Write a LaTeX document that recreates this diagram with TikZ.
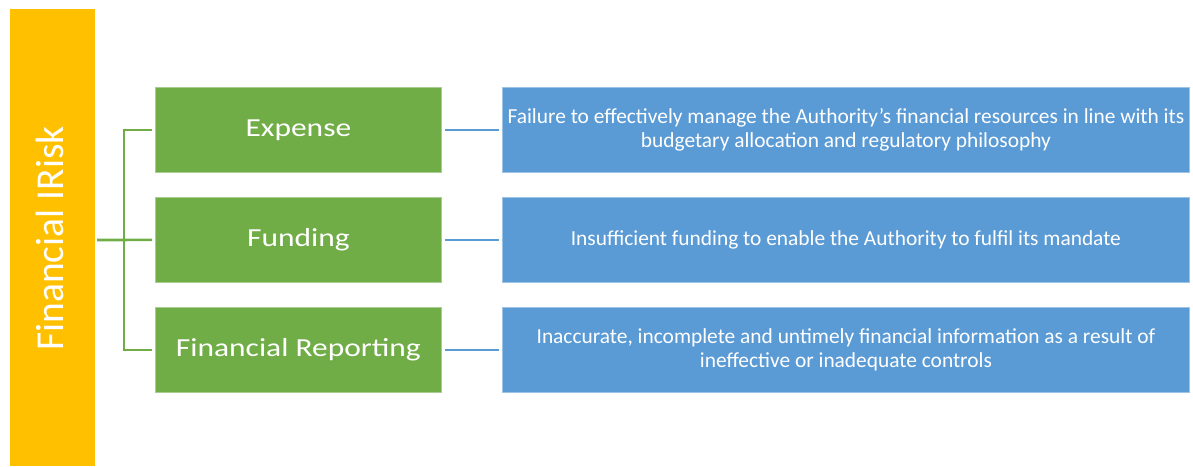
\documentclass[tikz,border=0pt]{standalone}
\usepackage{fontspec}
\usepackage{graphicx}
\setmainfont{Carlito}
\definecolor{riskyellow}{HTML}{FFC000}
\definecolor{riskgreen}{HTML}{70AD47}
\definecolor{riskblue}{HTML}{5B9BD5}
% wide setting used for the category labels
\newcommand{\widelabel}[1]{\scalebox{1.21}[1]{#1}}
\begin{document}
\begin{tikzpicture}[x=1pt,y=-1pt,
  catbox/.style={fill=riskgreen, draw=riskgreen!60!white, line width=0.8pt, minimum width=286pt, minimum height=85pt, anchor=north west, inner sep=0pt, text=white, font=\fontsize{26}{30}\selectfont},
  descbox/.style={fill=riskblue, draw=riskblue!60!white, line width=0.8pt, minimum width=687pt, minimum height=85pt, anchor=north west, inner sep=0pt, text=white, align=center, font=\fontsize{21.4}{24.3}\selectfont},
  greenlink/.style={draw=riskgreen, line width=2.6pt},
  bluelink/.style={draw=riskblue, line width=2.6pt}]
\useasboundingbox (0,0) rectangle (1193,466);
% main category bar
\fill[riskyellow] (10,9) rectangle (95,466);
\node[text=white, rotate=90, anchor=base, inner sep=0pt, font=\fontsize{39.5}{42}\selectfont] (title) at (63,238.5) {Financial IRisk};
\coordinate (root) at (97,240);
\coordinate (trunk) at (124,240);
% sub-categories
\node[catbox] (expense) at (155,87) {\widelabel{Expense}};
\node[catbox] (funding) at (155,197) {\widelabel{Funding}};
\node[catbox] (reporting) at (155,307) {\widelabel{Financial Reporting}};
% descriptions
\node[descbox] (dexpense) at (502,87) {Failure to effectively manage the Authority’s financial resources in line with its\\budgetary allocation and regulatory philosophy};
\node[descbox] (dfunding) at (502,197) {Insufficient funding to enable the Authority to fulfil its mandate};
\node[descbox] (dreporting) at (502,307) {Inaccurate, incomplete and untimely financial information as a result of\\ineffective or inadequate controls};
% tree connectors
\draw[greenlink] (root) -- ([xshift=-3pt]funding.west);
\draw[greenlink] ([xshift=-3pt]expense.west) -| (trunk) |- ([xshift=-3pt]reporting.west);
% description links
\draw[bluelink] ([xshift=3pt]expense.east) -- ([xshift=-3pt]dexpense.west);
\draw[bluelink] ([xshift=3pt]funding.east) -- ([xshift=-3pt]dfunding.west);
\draw[bluelink] ([xshift=3pt]reporting.east) -- ([xshift=-3pt]dreporting.west);
\end{tikzpicture}
\end{document}
